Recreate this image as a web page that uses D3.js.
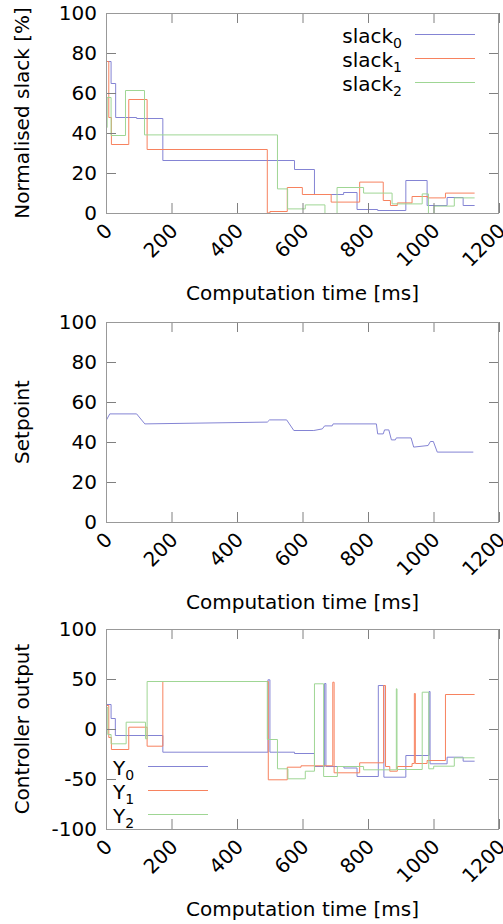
<!DOCTYPE html>
<html>
<head>
<meta charset="utf-8">
<script src="https://cdn.jsdelivr.net/npm/d3@7"></script>
<style>
body { margin: 0; background: #fff; }
text { font-family: "DejaVu Sans", Verdana, sans-serif; fill: #000; }
</style>
</head>
<body>
<div id="chart"></div>
<script>
var width = 503,
    height = 924,
    margin = {left: 106, right: 4},
    plotH = 200,
    fontSize = 20;

// tick values
var timeTicks = [0, 200, 400, 600, 800, 1000, 1200];
var pctTicks = [0, 20, 40, 60, 80, 100];
var outTicks = [-100, -50, 0, 50, 100];

// normalised slack [%], [time ms, value]
var slack0 = [[0,76],[14,65],[28,48],[92,47.5],[172,26.5],[574,22],[635,9.5],[724,10.5],[765,2],[828,1.5],[914,16.5],[979,4],[1040,8],[1089,4],[1124,4]];
var slack1 = [[0,76],[7,48],[15,34.5],[68,57],[124,32],[491,0.3],[499,1],[552,13],[598,9.5],[686,5.7],[773,15.7],[845,6.5],[867,4],[888,5.3],[933,8.5],[981,7.8],[1035,10.2],[1124,10.2]];
var slack2 = [[0,43],[2,58],[14,39],[58,61.5],[116,39.3],[522,12.3],[553,2.3],[607,4.3],[667,0],[704,13],[785,10.2],[872,4.8],[964,9.8],[983,0],[1000,3.7],[1062,7.8],[1124,7.8]];

// setpoint
var setpoint = [[0,51.3],[10,54.3],[92,54.3],[117,49.3],[491,50.2],[498,51.3],[550,51.3],[572,46],[633,46],[659,46.8],[666,48.3],[689,48.3],[692,49.3],[824,49.3],[828,44.3],[845,44.3],[849,46.3],[862,46.3],[870,41.3],[882,41.3],[885,42.3],[930,42.3],[938,37.7],[982,38.5],[989,40.5],[998,40.5],[1010,35.2],[1120,35.2]];

// controller output
var out0 = [[0,25],[14,11],[27,-6],[172,-22.7],[493,49.7],[499,-22.7],[574,-24],[635,-37],[666,46],[670,-37],[725,-38.5],[765,-47],[830,44],[847,-47.7],[914,-26],[985,38],[988,-34.3],[1040,-27.7],[1089,-31.7],[1124,-31.7]];
var out1 = [[0,24],[7,-8],[15,-20],[68,2.3],[124,-16.7],[172,48],[494,-50.3],[552,-37.7],[594,-36.3],[691,47.3],[695,-43.3],[773,-33.3],[846,44],[852,-37],[865,-41.7],[888,-37],[933,-34],[940,36],[943,-34],[979,-31],[1035,35],[1124,35]];
var out2 = [[0,22],[4,-5],[14,-14.3],[60,7.3],[119,-9.3],[124,48],[491,-10],[522,-39.3],[554,-49.3],[607,-41.7],[635,45.7],[663,-47],[705,-37],[785,-40.3],[885,40.7],[887,-40],[964,37.3],[984,-39.3],[999,-36.7],[1062,-28.3],[1124,-28.3]];

var colors = ["#8484d4", "#f7825f", "#9fd694"];

var svg = d3.select("#chart")
  .append("svg")
  .attr("width", width)
  .attr("height", height);

var x = d3.scaleLinear().domain([0, 1200]).range([margin.left, width - margin.right]);

function panel(top, domain, yTicks, ylabel, series, curve) {
  var y = d3.scaleLinear().domain(domain).range([top + plotH, top]);
  var g = svg.append("g");

  // data lines (half-pixel shift keeps horizontal runs crisp)
  var line = d3.line().x(d => x(d[0])).y(d => y(d[1])).curve(curve);
  var lines = g.append("g").attr("transform", "translate(0.5,0.5)");
  series.forEach(function(s, i) {
    lines.append("path")
      .datum(s)
      .attr("fill", "none")
      .attr("stroke", colors[i])
      .attr("stroke-width", 1)
      .attr("d", line);
  });

  // inward ticks on all four sides
  var axes = [
    [d3.axisBottom(x).tickValues(timeTicks).tickFormat(d => String(d)), `translate(0,${top + plotH})`, "bottom"],
    [d3.axisTop(x).tickValues(timeTicks).tickFormat(""), `translate(0,${top})`, "top"],
    [d3.axisLeft(y).tickValues(yTicks).tickFormat(d => String(d)).tickPadding(9), `translate(${margin.left},0)`, "left"],
    [d3.axisRight(y).tickValues(yTicks).tickFormat(""), `translate(${width - margin.right},0)`, "right"]
  ];
  axes.forEach(function(a) {
    var ax = g.append("g")
      .attr("transform", a[1])
      .call(a[0].tickSize(-10).tickSizeOuter(0));
    ax.select(".domain").remove();
    ax.selectAll("line").attr("stroke", "#808080");
    ax.selectAll("text")
      .attr("font-size", fontSize)
      .attr("font-family", "DejaVu Sans, Verdana, sans-serif");
    if (a[2] == "bottom") {
      ax.selectAll("text")
        .attr("x", 0).attr("y", 0).attr("dy", 0)
        .attr("text-anchor", "end")
        .attr("transform", "translate(7,19) rotate(-45)");
    }
  });

  // frame
  g.append("rect")
    .attr("x", x(0) + 0.5)
    .attr("y", top + 0.5)
    .attr("width", x(1200) - x(0) - 1)
    .attr("height", plotH)
    .attr("fill", "none")
    .attr("stroke", "#999");

  // axis labels
  g.append("text")
    .attr("x", (x(0) + x(1200)) / 2)
    .attr("y", top + plotH + 87)
    .attr("text-anchor", "middle")
    .attr("font-size", fontSize)
    .text("Computation time [ms]");

  g.append("text")
    .attr("transform", `translate(29,${top + plotH / 2}) rotate(-90)`)
    .attr("text-anchor", "middle")
    .attr("font-size", fontSize)
    .text(ylabel);

  return g;
}

// legend helper
function legendRow(g, label, sub, tx, anchor, ly, x1, x2, color) {
  var t = g.append("text")
    .attr("x", tx)
    .attr("y", ly + 9)
    .attr("text-anchor", anchor)
    .attr("font-size", fontSize);
  t.append("tspan").text(label);
  t.append("tspan").attr("font-size", 14).attr("dy", 5).text(sub);
  g.append("line")
    .attr("x1", x1).attr("x2", x2)
    .attr("y1", ly + 0.5).attr("y2", ly + 0.5)
    .attr("stroke", color)
    .attr("stroke-width", 1);
}

var p1 = panel(13, [0, 100], pctTicks, "Normalised slack [%]", [slack0, slack1, slack2], d3.curveStepAfter);
["0", "1", "2"].forEach(function(s, i) {
  legendRow(p1, "slack", s, 402, "end", 34 + i * 24, 415, 475, colors[i]);
});

panel(322, [0, 100], pctTicks, "Setpoint", [setpoint], d3.curveLinear);

var p3 = panel(629, [-100, 100], outTicks, "Controller output", [out0, out1, out2], d3.curveStepAfter);
["0", "1", "2"].forEach(function(s, i) {
  legendRow(p3, "Y", s, 113, "start", 766 + i * 24, 148, 208, colors[i]);
});
</script>
</body>
</html>
